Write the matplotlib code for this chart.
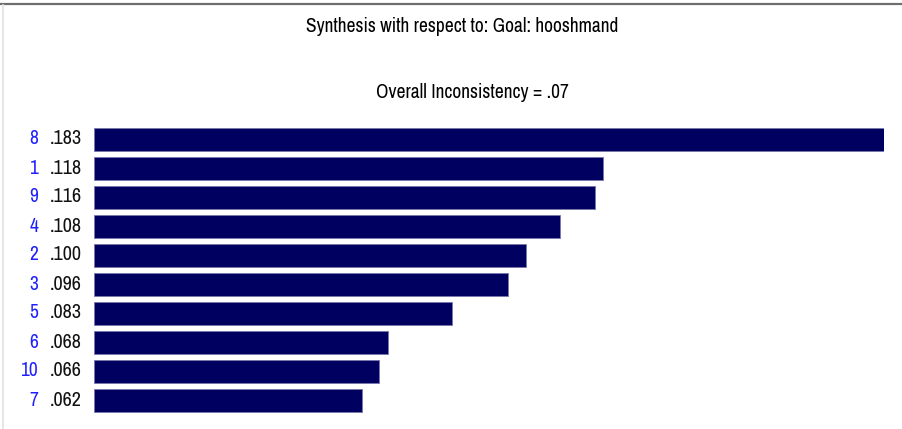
import matplotlib
matplotlib.use("Agg")
import matplotlib.pyplot as plt
from matplotlib.lines import Line2D

# Synthesis results (priorities per alternative)
alternatives = ["8", "1", "9", "4", "2", "3", "5", "6", "10", "7"]
priorities = [0.183, 0.118, 0.116, 0.108, 0.100, 0.096, 0.083, 0.068, 0.066, 0.062]
value_labels = [".183", ".118", ".116", ".108", ".100", ".096", ".083", ".068", ".066", ".062"]

title = "Synthesis with respect to: Goal: hooshmand"
subtitle = "Overall Inconsistency = .07"

# narrow face to mimic the condensed screen font of the original
plt.rcParams['font.family'] = ['Archivo Narrow', 'Liberation Sans Narrow', 'DejaVu Sans']

W, H = 903, 429
fig = plt.figure(figsize=(W / 100, H / 100), dpi=100)
fig.patch.set_facecolor("white")

# window-like frame lines
fig.add_artist(Line2D([0, 1], [1 - 4 / H, 1 - 4 / H], color="#6e6e6e", lw=1.6))
fig.add_artist(Line2D([3.5 / W, 3.5 / W], [0, 1 - 5 / H], color="#e2e2e2", lw=1.2))

# bar area: x from 94 px to 884 px, rows centred from y=139 to y=400
left, right = 94 / W, 884 / W
top_c, bot_c = 139, 400
step = (bot_c - top_c) / (len(priorities) - 1)
y_top = top_c - step / 2
y_bot = bot_c + step / 2
ax = fig.add_axes([left, 1 - y_bot / H, right - left, (y_bot - y_top) / H])
ax.set_xlim(0, max(priorities))
ax.set_ylim(len(priorities) - 0.5, -0.5)
ax.axis("off")

ypos = range(len(priorities))
ax.barh(ypos, priorities, height=23 / step, color="#000060",
        edgecolor="#7777aa", linewidth=0.6)

for i, (alt, lab) in enumerate(zip(alternatives, value_labels)):
    ax.annotate(alt, xy=(0, i), xycoords="data", xytext=(-56, 0),
                textcoords="offset pixels", ha="right", va="center",
                fontsize=14, color="#2020ff")
    ax.annotate(lab, xy=(0, i), xycoords="data", xytext=(-44, 0),
                textcoords="offset pixels", ha="left", va="center",
                fontsize=14.5, color="#111111")

fig.text(462 / W, 1 - 27 / H, title, ha="center", va="center", fontsize=14)
fig.text(472 / W, 1 - 92 / H, subtitle, ha="center", va="center", fontsize=14)

fig.savefig("out.png", dpi=100)
